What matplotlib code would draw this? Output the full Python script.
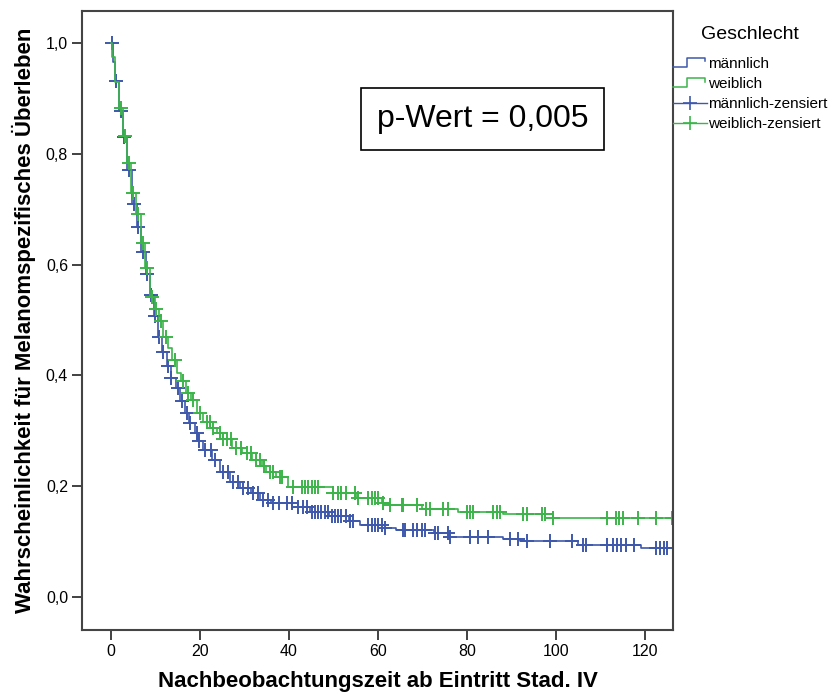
import numpy as np
import matplotlib
matplotlib.use("Agg")
import matplotlib.pyplot as plt
from matplotlib.lines import Line2D
from matplotlib.legend_handler import HandlerBase

plt.rcParams['font.family'] = ['Liberation Sans', 'DejaVu Sans']

# Kaplan-Meier steps: time of drop and survival after it
male_t = [0, 0.5, 0.9, 1.9, 2.7, 3.7, 4.8, 5.8, 6.7, 7.8, 8.7, 9.6, 10.5, 11.5, 12.5,
          13.4, 14.6, 15.6, 16.6, 17.5, 18.8, 19.6, 20.7, 22.8, 24.6, 26.8, 29.0,
          31.4, 33.6, 36.0, 40.8, 44.7, 49, 53.5, 56, 61, 64, 72.5, 76, 88, 92, 105, 119]
male_s = [1.0, 0.965, 0.932, 0.878, 0.831, 0.771, 0.709, 0.668, 0.622, 0.583, 0.545,
          0.508, 0.469, 0.443, 0.417, 0.395, 0.377, 0.353, 0.332, 0.314, 0.296, 0.281,
          0.265, 0.247, 0.226, 0.208, 0.196, 0.187, 0.175, 0.170, 0.163, 0.154, 0.145,
          0.136, 0.130, 0.124, 0.121, 0.115, 0.108, 0.105, 0.100, 0.094, 0.088]

female_t = [0, 0.3, 1.0, 1.8, 2.8, 3.7, 4.6, 5.6, 6.7, 7.6, 8.8, 9.8, 10.7, 11.8, 12.9,
            13.8, 14.9, 15.8, 16.8, 18.0, 19.3, 20.8, 22.3, 23.8, 25.2, 27.2, 29.5,
            31.8, 33.9, 34.9, 37.0, 39.8, 50, 55, 61, 62.5, 70, 78, 88, 99.3]
female_s = [1.0, 0.975, 0.93, 0.883, 0.832, 0.784, 0.729, 0.691, 0.639, 0.594, 0.542,
            0.52, 0.499, 0.469, 0.45, 0.428, 0.405, 0.389, 0.368, 0.356, 0.332, 0.316,
            0.304, 0.295, 0.285, 0.269, 0.260, 0.247, 0.236, 0.226, 0.217, 0.199, 0.188,
            0.178, 0.170, 0.165, 0.159, 0.154, 0.150, 0.142]

# censored observations
male_cens = [0.15, 1.1, 2.2, 3.0, 4.1, 5.2, 6.1, 7.1, 8.2, 9.0, 9.9, 10.8, 11.8, 12.9,
             13.6, 15.1, 15.9, 17.0, 17.8, 19.3, 19.8, 21.1, 22.4, 23.4, 25.2, 26.4,
             27.5, 28.6, 29.7, 30.8, 32.0, 33.1, 34.2, 35.3, 36.5, 37.8, 39.5, 40.6,
             42.1, 43.2, 44.0, 45.1, 45.8, 46.6, 47.3, 48.1, 48.8, 49.6, 50.3, 51.1,
             51.8, 52.9, 53.7, 54.4, 57.8, 58.6, 59.3, 60.1, 60.8, 61.6, 65.7, 66.1,
             67.9, 68.7, 69.8, 70.6, 72.8, 73.6, 75.8, 76.2, 80.7, 82.5, 84.8, 89.7,
             91.5, 93.4, 98.7, 103.6, 106.1, 106.7, 111.5, 112.8, 113.7, 114.6, 115.7,
             117.5, 122.5, 123.4, 124.3, 125.0]
female_cens = [2.2, 3.15, 4.1, 5.0, 6.1, 7.1, 8.2, 9.3, 10.1, 11.2, 12.4, 14.4, 16.2,
               17.4, 18.5, 20.0, 21.5, 22.2, 23.0, 24.5, 25.2, 26.0, 27.0, 28.2, 29.3,
               30.5, 31.5, 32.7, 33.5, 34.5, 35.7, 36.5, 38.0, 38.4, 41.0, 42.9, 43.6,
               44.3, 45.1, 45.8, 46.6, 50.0, 51.1, 51.8, 52.9, 54.8, 55.6, 57.8, 58.6,
               59.3, 60.1, 61.2, 62.7, 65.3, 65.7, 68.7, 70.9, 71.7, 74.7, 75.8, 79.9,
               80.7, 81.4, 85.9, 86.7, 87.4, 92.7, 93.4, 96.8, 97.5, 99.3, 111.5, 113.5,
               114.2, 115.1, 118.4, 122.5, 126.0]

x_ticks = [0, 20, 40, 60, 80, 100, 120]
y_ticks = [0.0, 0.2, 0.4, 0.6, 0.8, 1.0]

blue = '#3e58ac'
green = '#3cb44b'


def surv_at(times, surv, t):
    idx = np.searchsorted(times, t, side='right') - 1
    return np.asarray(surv)[idx]


class StepHandler(HandlerBase):
    def create_artists(self, legend, orig_handle, xdescent, ydescent, width, height,
                       fontsize, trans):
        x0 = -xdescent
        y0 = -ydescent
        xs = [x0, x0 + 0.42 * width, x0 + 0.42 * width, x0 + 0.95 * width, x0 + 0.95 * width]
        ys = [y0 + 0.05 * height, y0 + 0.05 * height, y0 + 0.95 * height,
              y0 + 0.95 * height, y0 + 0.6 * height]
        line = Line2D(xs, ys, color=orig_handle.get_color(), lw=1.1)
        line.set_transform(trans)
        return [line]


fig = plt.figure(figsize=(8.37, 6.96), dpi=100)
ax = fig.add_axes([82 / 837, 66 / 696, 591 / 837, 619 / 696])

x_end = 127
for times, surv, cens, color in [(male_t, male_s, male_cens, blue),
                                 (female_t, female_s, female_cens, green)]:
    xs = list(times) + [x_end]
    ys = list(surv) + [surv[-1]]
    ax.step(xs, ys, where='post', color=color, lw=1.2)
    cy = [surv_at(times, surv, t) for t in cens]
    ax.plot(cens, cy, linestyle='none', marker='+', color=color, ms=10, mew=1.4)

ax.set_xlim(-6.5, 126.3)
ax.set_ylim(-0.06, 1.058)
ax.set_xticks(x_ticks)
ax.set_xticklabels([str(v) for v in x_ticks], fontsize=11.5)
ax.set_yticks(y_ticks)
ax.set_yticklabels([f"{v:.1f}".replace('.', ',') for v in y_ticks], fontsize=11.5)
ax.tick_params(direction='out', length=7, width=1.3, color='#333333', pad=3)
for sp in ax.spines.values():
    sp.set_color('#444444')
    sp.set_linewidth(1.5)

ax.set_xlabel('Nachbeobachtungszeit ab Eintritt Stad. IV', fontsize=16,
              fontweight='bold', labelpad=9)
ax.set_ylabel('Wahrscheinlichkeit für Melanomspezifisches Überleben', fontsize=16,
              fontweight='bold', labelpad=7)

ax.text(0.678, 0.825, 'p-Wert = 0,005', transform=ax.transAxes, fontsize=23,
        ha='center', va='center',
        bbox=dict(boxstyle='square,pad=0.5', facecolor='white', edgecolor='black', lw=1.2))

h_m = Line2D([], [], color=blue)
h_f = Line2D([], [], color=green)
h_mc = Line2D([], [], color=blue, marker='+', ms=10, mew=1.2, lw=1)
h_fc = Line2D([], [], color=green, marker='+', ms=10, mew=1.2, lw=1)
leg = fig.legend([h_m, h_f, h_mc, h_fc],
                 ['männlich', 'weiblich', 'männlich-zensiert', 'weiblich-zensiert'],
                 handler_map={h_m: StepHandler(), h_f: StepHandler()},
                 loc='upper left', bbox_to_anchor=(673 / 837, 1 - 26 / 696),
                 frameon=False, borderpad=0, borderaxespad=0, fontsize=11,
                 title='Geschlecht', title_fontsize=14, handlelength=2.2,
                 handletextpad=0.1, labelspacing=0.4)
leg._legend_box.sep = 10

fig.savefig('out.png', dpi=100)
